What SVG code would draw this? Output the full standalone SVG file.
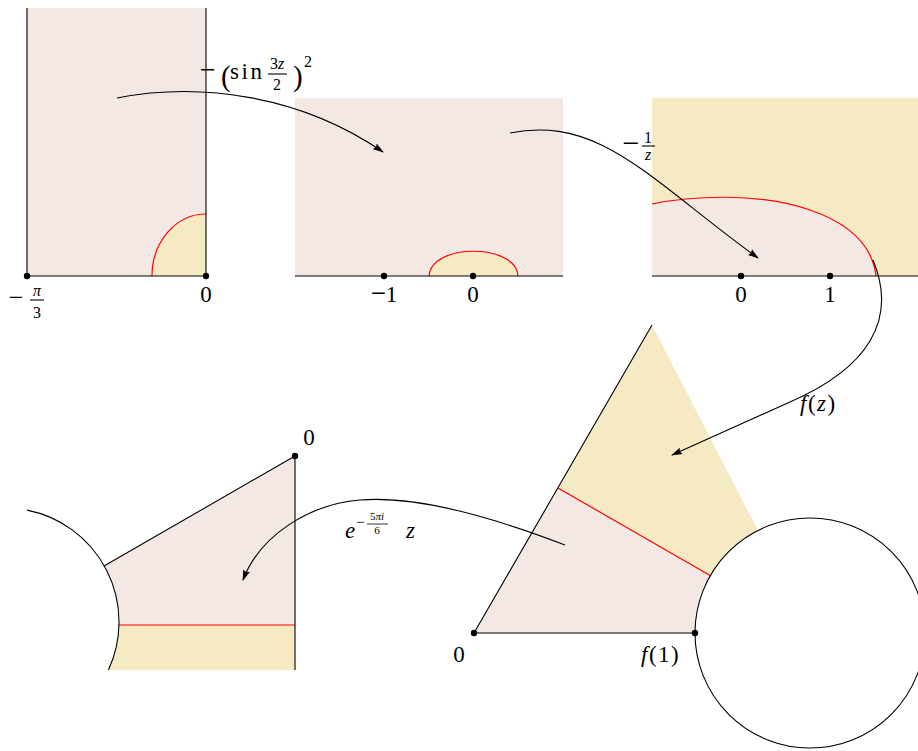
<svg xmlns="http://www.w3.org/2000/svg" width="918" height="751" viewBox="0 0 918 751" font-family="'Liberation Serif', 'DejaVu Serif', 'Times New Roman', serif">
<style>
.pink{fill:#f4e8e4;stroke:none}
.yel{fill:#f6eac4;stroke:none}
.ln{fill:none;stroke:#000;stroke-width:1.1}
.red{fill:none;stroke:#ff0000;stroke-width:1.2}
.arr{fill:none;stroke:#000;stroke-width:1.1;marker-end:url(#ah)}
.dot{fill:#000}
.t{font-size:23px}
.s{font-size:16px}
.ss{font-size:11px}
.it{font-style:italic}
.c{text-anchor:middle}
</style>
<defs>
<marker id="ah" viewBox="0 0 11 8" refX="10" refY="4" markerWidth="11" markerHeight="8" markerUnits="userSpaceOnUse" orient="auto">
<path d="M0,0.5 L11,4 L0,7.5 L1.5,4 Z" fill="#000"/>
</marker>
</defs>

<g id="panel1">
<rect class="pink" x="27" y="8" width="179" height="268"/>
<path class="yel" d="M152,276 A54,62 0 0 1 206,214 L206,276 Z"/>
<path class="red" d="M152,276 A54,62 0 0 1 206,214"/>
<path class="ln" d="M27,8 L27,276 L206,276 M206,8 L206,276"/>
<circle class="dot" cx="27" cy="276" r="3.2"/>
<circle class="dot" cx="206" cy="276" r="3.2"/>
<text class="c" x="16" y="306" style="font-size:26px">−</text>
<text class="s c it" x="37" y="296">π</text>
<line class="ln" x1="30" y1="300" x2="44" y2="300"/>
<text class="s c" x="37" y="318">3</text>
<text class="t c" x="206" y="302">0</text>
</g>

<g id="panel2">
<rect class="pink" x="295" y="98" width="268" height="178"/>
<path class="yel" d="M429,276 C431,243 516,243 518,276 Z"/>
<path class="red" d="M429,276 C431,243 516,243 518,276"/>
<path class="ln" d="M295,276 L563,276"/>
<circle class="dot" cx="384" cy="276" r="3.2"/>
<circle class="dot" cx="473" cy="276" r="3.2"/>
<text class="t c" x="384" y="302"><tspan style="font-size:27px">−</tspan>1</text>
<text class="t c" x="473" y="302">0</text>
</g>

<g id="panel3">
<rect class="yel" x="652" y="98" width="266" height="178"/>
<path class="pink" d="M652,204 C690,196 760,192 810,210 C845,222 872,242 876,276 L652,276 Z"/>
<path class="red" d="M652,204 C690,196 760,192 810,210 C845,222 872,242 876,276"/>
<path class="ln" d="M652,276 L918,276"/>
<circle class="dot" cx="741" cy="276" r="3.2"/>
<circle class="dot" cx="830" cy="276" r="3.2"/>
<text class="t c" x="741" y="302">0</text>
<text class="t c" x="830" y="302">1</text>
</g>

<g id="panel4">
<path class="yel" d="M652,325 L757.7,530 A115,115 0 0 0 711,576 L558,488 Z"/>
<path class="pink" d="M474,633 L558,488 L711,576 A115,115 0 0 0 695,633 Z"/>
<path class="red" d="M558,488 L711,576"/>
<path class="ln" d="M474,633 L652,325 M474,633 L695,633"/>
<circle class="ln" cx="810" cy="633" r="115"/>
<circle class="dot" cx="474" cy="633" r="3.2"/>
<circle class="dot" cx="695" cy="633" r="3.2"/>
<text class="t c" x="459" y="662">0</text>
<text class="t" x="641" y="662" letter-spacing="1.5"><tspan class="it">f</tspan>(1)</text>
</g>

<g id="panel5">
<path class="pink" d="M295,456 L104,566 A114,114 0 0 1 119,625 L295,625 Z"/>
<path class="yel" d="M119,625 A114,114 0 0 1 108.4,670 L295,670 L295,625 Z"/>
<path class="red" d="M119,625 L295,625"/>
<path class="ln" d="M295,456 L104,566 M295,456 L295,670 M27,510.1 A114,114 0 0 1 108.4,670"/>
<circle class="dot" cx="295" cy="456" r="3.2"/>
<text class="t c" x="309" y="445">0</text>
</g>

<g id="connectors">
<path class="arr" d="M117,98 C200,82 300,95 383,152"/>
<path class="arr" d="M510,133 C600,115 650,180 758,258"/>
<path class="arr" d="M873,260 C898,320 868,368 790,402 L672,455"/>
<path class="arr" d="M565,545 C500,520 420,495 360,500 C310,504 260,535 243,580"/>
</g>

<g id="labels">
<text class="c" x="208" y="79" style="font-size:28px">−</text>
<text class="t" x="221" y="86" style="font-size:29px">(</text>
<text class="t" x="230" y="79" textLength="32">sin</text>
<text class="s c" x="277" y="69">3<tspan class="it">z</tspan></text>
<line class="ln" x1="268" y1="74" x2="287" y2="74"/>
<text class="s c" x="277" y="90">2</text>
<text class="t" x="293" y="86" style="font-size:29px">)</text>
<text class="s" x="304" y="67">2</text>

<text class="c" x="631" y="153" style="font-size:30px">−</text>
<text class="s c" x="648" y="143">1</text>
<line class="ln" x1="642" y1="146" x2="655" y2="146"/>
<text class="s c it" x="648" y="160">z</text>

<text class="t it" x="345" y="538">e</text>
<text x="356" y="527" style="font-size:15px">−</text>
<text class="ss c" x="377" y="520">5<tspan class="it">πi</tspan></text>
<line x1="367" y1="524" x2="388" y2="524" stroke="#000" stroke-width="0.8"/>
<text class="ss c" x="377" y="534">6</text>
<text class="t it" x="406" y="538">z</text>

<text class="t" x="800" y="411" letter-spacing="1.5"><tspan class="it">f</tspan>(<tspan class="it">z</tspan>)</text>
</g>
</svg>
